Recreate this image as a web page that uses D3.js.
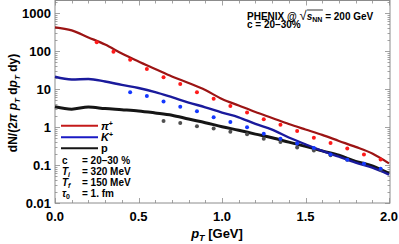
<!DOCTYPE html>
<html>
<head>
<meta charset="utf-8">
<script src="https://cdn.jsdelivr.net/npm/d3@7"></script>
<style>
  body { margin: 0; background: #fff; }
  text { font-family: "Liberation Sans", Arial, sans-serif; font-weight: bold; fill: #000; }
</style>
</head>
<body>
<div id="chart"></div>
<script>
var svgWidth = 399;
var svgHeight = 244;

// model curves, read on a 0.1 GeV grid
var gridPT = [0, 0.1, 0.2, 0.3, 0.4, 0.5, 0.6, 0.7, 0.8, 0.9, 1.0, 1.1, 1.2, 1.3, 1.4, 1.5, 1.6, 1.7, 1.8, 1.9, 2.0];
var pionLine = [420, 350, 228, 148, 86, 53, 33.6, 21.3, 14.4, 9.4, 5.45, 3.68, 2.48, 1.73, 1.2, 0.86, 0.62, 0.43, 0.30, 0.20, 0.11];
var kaonLine = [21, 17.8, 18.3, 15.7, 12.8, 10.6, 8.3, 6.1, 4.4, 3.3, 2.4, 1.8, 1.2, 0.85, 0.53, 0.35, 0.235, 0.165, 0.115, 0.085, 0.056];
var protonLine = [3.42, 2.95, 3.35, 3.05, 2.85, 2.65, 2.35, 2.05, 1.62, 1.3, 1.02, 0.82, 0.65, 0.52, 0.40, 0.31, 0.235, 0.18, 0.125, 0.095, 0.06];

// PHENIX data points
var pionPT = [0.25, 0.35, 0.45, 0.55, 0.65, 0.75, 0.85, 0.95, 1.05, 1.15, 1.25, 1.35, 1.45, 1.55, 1.65, 1.75, 1.85, 1.95];
var pionData = [169, 96, 58.6, 33.6, 20.5, 13.5, 8.2, 5.5, 3.57, 2.41, 1.6, 1.14, 0.785, 0.52, 0.38, 0.27, 0.19, 0.14];
var kaonPT = [0.45, 0.55, 0.65, 0.75, 0.85, 0.95, 1.05, 1.15, 1.25, 1.35, 1.45, 1.55, 1.65, 1.75, 1.85, 1.95];
var kaonData = [8.2, 6.5, 4.7, 3.4, 2.6, 1.8, 1.36, 0.99, 0.66, 0.49, 0.37, 0.28, 0.19, 0.138, 0.108, 0.080];
var protonPT = [0.65, 0.75, 0.85, 0.95, 1.05, 1.15, 1.25, 1.35, 1.45, 1.55, 1.65, 1.75, 1.85, 1.95];
var protonData = [1.44, 1.27, 1.04, 0.91, 0.75, 0.64, 0.49, 0.40, 0.29, 0.24, 0.18, 0.138, 0.108, 0.075];

var xTickValues = [0, 0.5, 1.0, 1.5, 2.0];
var xTickLabels = ["0.0", "0.5", "1.0", "1.5", "2.0"];
var yTickValues = [0.01, 0.1, 1, 10, 100, 1000];
var yTickLabels = ["0.01", "0.1", "1", "10", "100", "1000"];

var paramNames = ["c", "T", "T", "τ"];
var paramSubs = ["", "i", "f", "0"];
var paramValues = ["= 20\u201330 %", "= 320 MeV", "= 150 MeV", "= 1. fm"];

var frame = { left: 55, right: 390, top: 0.5, bottom: 203 };

var svg = d3.select("#chart")
  .append("svg")
  .attr("width", svgWidth)
  .attr("height", svgHeight);

var x = d3.scaleLinear().domain([0, 2]).range([55, 389]);
var y = d3.scaleLog().domain([0.01, 1000]).range([203, 13]);

// frame
svg.append("rect")
  .attr("x", frame.left)
  .attr("y", frame.top)
  .attr("width", frame.right - frame.left)
  .attr("height", frame.bottom - frame.top)
  .attr("fill", "none")
  .attr("stroke", "#8c8c8c")
  .attr("stroke-width", 1);

var tickGroup = svg.append("g").attr("stroke", "#8c8c8c").attr("stroke-width", 0.8);

// x ticks (bottom + top)
d3.range(0, 21).forEach(function(i) {
  var v = i / 10;
  var len = (i % 5 === 0) ? 5 : 3;
  var px = Math.round(x(v)) + 0.5;
  tickGroup.append("line").attr("x1", px).attr("x2", px).attr("y1", frame.bottom).attr("y2", frame.bottom - len);
  tickGroup.append("line").attr("x1", px).attr("x2", px).attr("y1", frame.top).attr("y2", frame.top + len);
});

// y ticks (left + right)
var yMinor = [];
[0.01, 0.1, 1, 10, 100, 1000].forEach(function(d) {
  for (var k = 1; k < 10; k++) {
    var v = d * k;
    if (y(v) >= frame.top) yMinor.push({ v: v, major: k === 1 });
  }
});
yMinor.forEach(function(t) {
  var len = t.major ? 5 : 2.5;
  var py = Math.round(y(t.v)) + 0.5;
  tickGroup.append("line").attr("x1", frame.left).attr("x2", frame.left + len).attr("y1", py).attr("y2", py);
  tickGroup.append("line").attr("x1", frame.right).attr("x2", frame.right - len).attr("y1", py).attr("y2", py);
});

// tick labels
svg.selectAll(".xlab")
  .data(xTickValues)
  .enter()
  .append("text")
  .attr("x", d => x(d))
  .attr("y", 221)
  .attr("text-anchor", "middle")
  .style("font-size", "13px")
  .text((d, i) => xTickLabels[i]);

svg.selectAll(".ylab")
  .data(yTickValues)
  .enter()
  .append("text")
  .attr("x", 51)
  .attr("y", d => y(d))
  .attr("dy", "0.36em")
  .attr("text-anchor", "end")
  .style("font-size", "13px")
  .text((d, i) => yTickLabels[i]);

// axis titles
var xt = svg.append("text")
  .attr("x", 217)
  .attr("y", 238)
  .attr("text-anchor", "middle")
  .style("font-size", "13px");
xt.append("tspan").style("font-style", "italic").text("p");
xt.append("tspan").attr("dy", 3).style("font-size", "9px").style("font-style", "italic").text("T");
xt.append("tspan").attr("dy", -3).text(" [GeV]");

var yt = svg.append("text")
  .attr("transform", "translate(17,103) rotate(-90)")
  .attr("text-anchor", "middle")
  .style("font-size", "12px");
yt.append("tspan").text("dN/(2");
yt.append("tspan").style("font-style", "italic").text("\u03c0 p");
yt.append("tspan").attr("dy", 3).style("font-size", "8px").style("font-style", "italic").text("T");
yt.append("tspan").attr("dy", -3).text(" d");
yt.append("tspan").style("font-style", "italic").text("p");
yt.append("tspan").attr("dy", 3).style("font-size", "8px").style("font-style", "italic").text("T");
yt.append("tspan").attr("dy", -3).text(" dy)");

// model lines
var line = d3.line()
  .x((d, i) => x(gridPT[i]))
  .y(d => y(d))
  .curve(d3.curveMonotoneX);

var plotArea = svg.append("g");
plotArea.append("path").datum(protonLine).attr("d", line)
  .attr("fill", "none").attr("stroke", "#151515").attr("stroke-width", 3);
plotArea.append("path").datum(kaonLine).attr("d", line)
  .attr("fill", "none").attr("stroke", "#1a1a9c").attr("stroke-width", 2.4);
plotArea.append("path").datum(pionLine).attr("d", line)
  .attr("fill", "none").attr("stroke", "#9c1414").attr("stroke-width", 2.2);

// data points
function drawPoints(xs, ys, color) {
  plotArea.append("g").selectAll("circle")
    .data(ys)
    .enter()
    .append("circle")
    .attr("cx", (d, i) => x(xs[i]))
    .attr("cy", d => y(d))
    .attr("r", 2)
    .attr("fill", color);
}
drawPoints(protonPT, protonData, "#505050");
drawPoints(kaonPT, kaonData, "#1438ff");
drawPoints(pionPT, pionData, "#ff1a1a");

// legend
var legendColors = ["#c41a1a", "#1a1ac4", "#151515"];
var legendY = [125.7, 137.3, 148.3];
var legend = svg.append("g");
legendColors.forEach(function(c, i) {
  legend.append("line")
    .attr("x1", 61).attr("x2", 98)
    .attr("y1", legendY[i]).attr("y2", legendY[i])
    .attr("stroke", c).attr("stroke-width", 2);
});
var l1 = legend.append("text").attr("x", 101).attr("y", legendY[0] + 4).style("font-size", "11px");
l1.append("tspan").style("font-style", "italic").text("\u03c0");
l1.append("tspan").attr("dy", -4).style("font-size", "7px").text("+");
var l2 = legend.append("text").attr("x", 101).attr("y", legendY[1] + 4).style("font-size", "11px");
l2.append("tspan").style("font-style", "italic").text("K");
l2.append("tspan").attr("dy", -4).style("font-size", "7px").text("+");
legend.append("text").attr("x", 101).attr("y", legendY[2] + 4).style("font-size", "11px").text("p");

var paramY = [160, 171, 182, 193];
paramNames.forEach(function(n, i) {
  var t = legend.append("text").attr("x", 62).attr("y", paramY[i] + 3.5).style("font-size", "10px");
  t.append("tspan").style("font-style", i === 0 ? "normal" : "italic").text(n);
  if (paramSubs[i]) t.append("tspan").attr("dy", 2).style("font-size", "7px").style("font-style", i === 3 ? "normal" : "italic").text(paramSubs[i]);
  legend.append("text").attr("x", 82).attr("y", paramY[i] + 3.5).style("font-size", "10px").text(paramValues[i]);
});

// experiment label
var ph = svg.append("text").attr("x", 247).attr("y", 19.5).style("font-size", "10px");
ph.append("tspan").text("PHENIX @ ");
var rad = ph.append("tspan").style("font-size", "13px").style("font-weight", "normal").text("\u221a");
ph.append("tspan").style("font-style", "italic").text("s");
var nn = ph.append("tspan").attr("dy", 2).style("font-size", "7px").text("NN");
ph.append("tspan").attr("dy", -2).text(" = 200 GeV");
var rb = rad.node().getBBox();
var nb = nn.node().getBBox();
svg.append("line")
  .attr("x1", rb.x + rb.width - 0.5).attr("x2", nb.x + nb.width + 0.5)
  .attr("y1", rb.y + 2.5).attr("y2", rb.y + 2.5)
  .attr("stroke", "#000").attr("stroke-width", 0.8);
svg.append("text").attr("x", 247).attr("y", 28).style("font-size", "10px").text("c = 20\u201330%");
</script>
</body>
</html>
